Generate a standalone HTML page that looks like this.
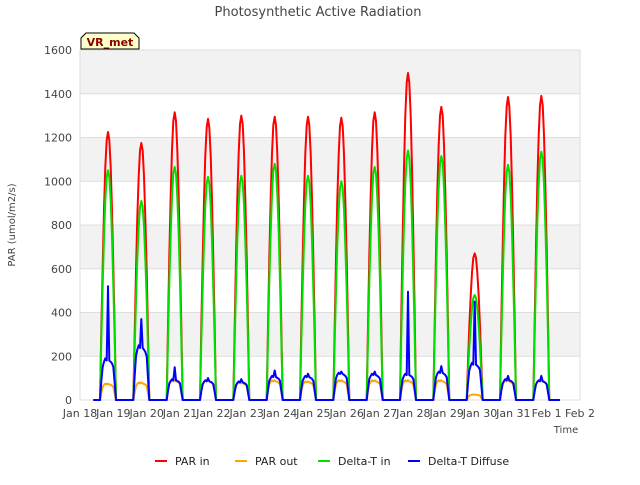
<!DOCTYPE html>
<html><head><meta charset="utf-8"><style>
body{margin:0;background:#fff;font-family:"Liberation Sans","DejaVu Sans",sans-serif}
</style></head><body>
<svg id="chart" width="640" height="480" xmlns="http://www.w3.org/2000/svg" font-family="DejaVu Sans, Liberation Sans, sans-serif">
<text x="318" y="16" text-anchor="middle" font-size="13" fill="#444">Photosynthetic Active Radiation</text>
<g id="bands"></g>
<rect x="80" y="50" width="500" height="350" fill="none" stroke="#ddd"/>
<g id="yt" font-size="11" fill="#444" text-anchor="end"></g>
<g id="xt" font-size="11" fill="#444" text-anchor="middle"></g>
<g id="series"></g>
<text x="15" y="225" transform="rotate(-90 15 225)" text-anchor="middle" font-size="10" fill="#444">PAR (umol/m2/s)</text>
<text x="566" y="433" text-anchor="middle" font-size="10" fill="#444">Time</text>
<g>
<path d="M81,49 L81,38 L86,33 L134,33 L139,38 L139,49 Z" fill="#ffffc8" stroke="#000"/>
<text x="110" y="46" text-anchor="middle" font-size="11" font-weight="bold" fill="#8b0000">VR_met</text>
</g>
<g id="legend" font-size="11" fill="#222"></g>
</svg>
<script>
const days=["Jan 18","Jan 19","Jan 20","Jan 21","Jan 22","Jan 23","Jan 24","Jan 25","Jan 26","Jan 27","Jan 28","Jan 29","Jan 30","Jan 31","Feb 1","Feb 2"];
const yTicks=[0,200,400,600,800,1000,1200,1400,1600];
const parIn=[1225,1175,1315,1285,1300,1295,1295,1290,1315,1495,1340,670,1385,1390];
const parOut=[75,80,90,90,80,90,85,90,90,90,90,25,90,90];
const deltaIn=[1050,910,1065,1020,1025,1080,1025,1000,1065,1140,1115,480,1075,1135];
const diffBase=[190,250,95,90,85,110,110,125,120,120,130,170,95,90];
const diffSpike=[520,370,150,100,95,135,120,130,130,495,155,450,110,110];
const profile=[0,.26,.5,.71,.87,.97,1,.97,.87,.71,.5,.26,0];
const flatProfile=[0,.45,.8,.92,1,.95,1,.95,.92,.88,.8,.4,0];
const NS="http://www.w3.org/2000/svg";
const X=d=>80+d*500/15, Y=v=>400-v*350/1600;
const svg=document.getElementById('chart');
function mk(tag,attrs,parent){const e=document.createElementNS(NS,tag);for(const k in attrs)e.setAttribute(k,attrs[k]);parent.appendChild(e);return e;}
const bands=document.getElementById('bands');
for(let i=0;i<yTicks.length-1;i++){
 const r=mk('rect',{x:80,y:Y(yTicks[i+1]),width:500,height:Y(yTicks[i])-Y(yTicks[i+1]),fill:i%2?'#f2f2f2':'#fff'},bands);
 
 
}
const yt=document.getElementById('yt');
yTicks.forEach(v=>{
 const l=mk('line',{x1:80,x2:580,y1:Y(v),y2:Y(v),stroke:'#ddd'},bands);
 
 
 const t=mk('text',{x:72,y:Y(v)+4},yt);t.textContent=v;
 
 
});
const xt=document.getElementById('xt');
days.forEach((d,i)=>{
 const t=mk('text',{x:X(i),y:417},xt);t.textContent=d;
 
 
});
function build(peaks,prof,spikes){
 let pts=[[X(0.4),Y(0)]];
 peaks.forEach((p,i)=>{
  const c=i+0.84;
  prof.forEach((f,k)=>{
   let v=p*f;
   if(spikes&&k===6)v=spikes[i];
   pts.push([X(c+(k-6)*0.04),Y(v)]);
  });
 });
 pts.push([X(peaks.length+0.4),Y(0)]);
 return pts.map(p=>p[0].toFixed(1)+','+p[1].toFixed(1)).join(' ');
}
const ser=document.getElementById('series');
const defs=[['par-in-line',parIn,profile,null,'#ff0000'],['par-out-line',parOut,flatProfile,null,'#ffa500'],['delta-t-in-line',deltaIn,profile,null,'#00e000'],['delta-t-diffuse-line',diffBase,flatProfile,diffSpike,'#0000ff']];
defs.forEach(s=>{
 const p=mk('polyline',{points:build(s[1],s[2],s[3]),fill:'none',stroke:s[4],'stroke-width':2,'stroke-linejoin':'round'},ser);
 
 
});
const lg=document.getElementById('legend');
[['PAR in','#ff0000',155],['PAR out','#ffa500',235],['Delta-T in','#00e000',318],['Delta-T Diffuse','#0000ff',408]].forEach(e=>{
 const g=mk('g',{},lg);
 
 
 mk('line',{x1:e[2],x2:e[2]+12,y1:461,y2:461,stroke:e[1],'stroke-width':2},g);
 const t=mk('text',{x:e[2]+20,y:465},g);t.textContent=e[0];
});
</script>
</body></html>
